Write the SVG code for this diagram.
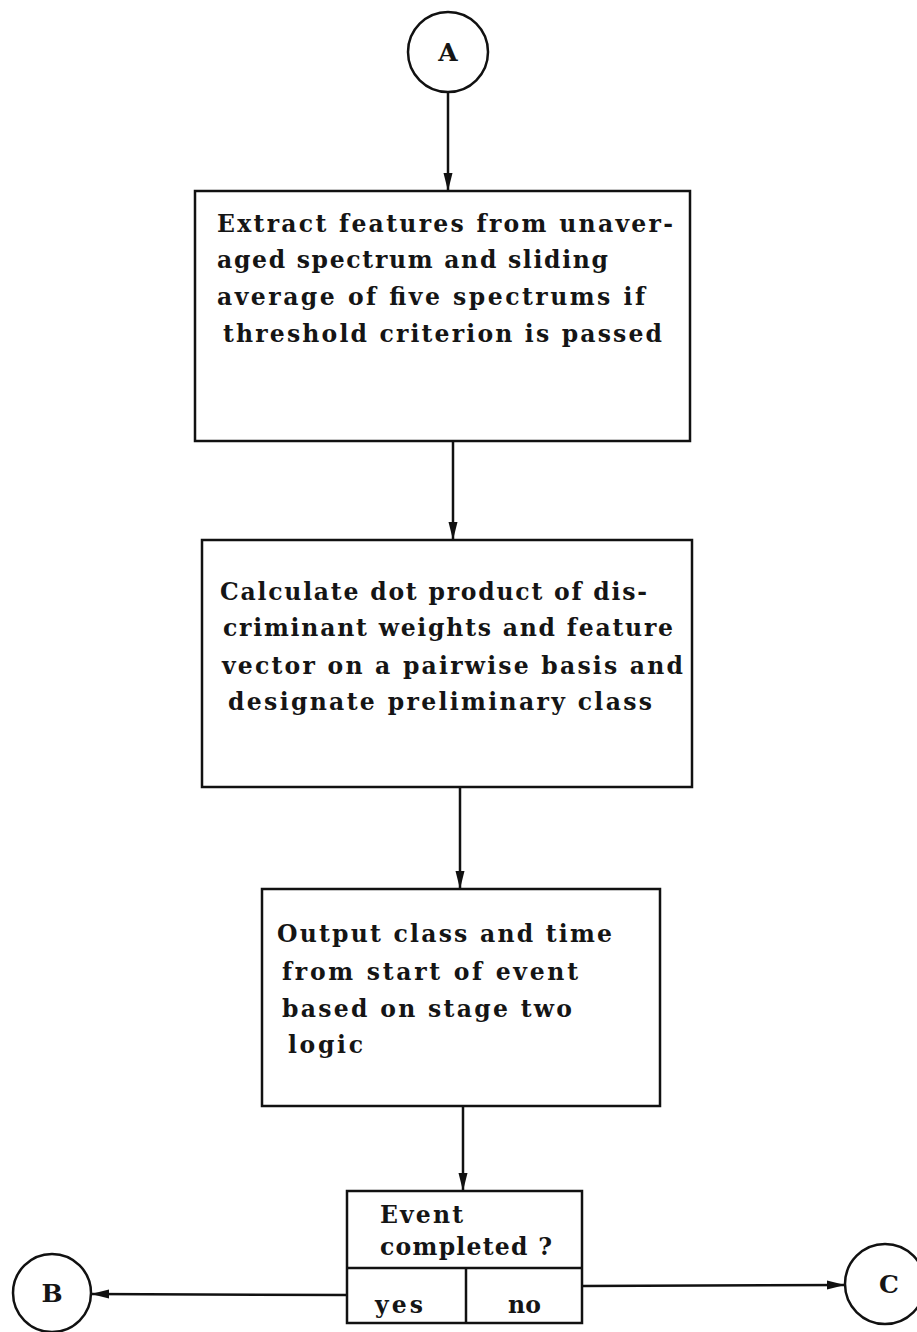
<svg xmlns="http://www.w3.org/2000/svg" width="917" height="1332" viewBox="0 0 917 1332">
<defs>
<marker id="arr" markerUnits="userSpaceOnUse" markerWidth="18" markerHeight="12" refX="18" refY="6" orient="auto">
<path d="M0,1.5 L18,6 L0,10.5 Z" fill="#111"/>
</marker>
<style>
.box,.circ{fill:#fff;stroke:#111;stroke-width:2.5}
.div{fill:none;stroke:#111;stroke-width:2.5}
.c{stroke:#111;stroke-width:2.5;fill:none}
text{font-family:"DejaVu Serif","Liberation Serif",serif;font-weight:bold;font-size:23.5px;fill:#151515}
.lbl{font-size:25px;text-anchor:middle}
</style>
</defs>
<rect x="0" y="0" width="917" height="1332" fill="#fff"/>
<g id="connectors">
<line class="c" x1="448" y1="92" x2="448" y2="191" marker-end="url(#arr)"/>
<line class="c" x1="453" y1="441" x2="453" y2="540" marker-end="url(#arr)"/>
<line class="c" x1="460" y1="787" x2="460" y2="889" marker-end="url(#arr)"/>
<line class="c" x1="463" y1="1106" x2="463" y2="1191" marker-end="url(#arr)"/>
<line class="c" x1="347" y1="1295" x2="91" y2="1294" marker-end="url(#arr)"/>
<line class="c" x1="582" y1="1286" x2="845" y2="1285" marker-end="url(#arr)"/>
</g>
<g id="nodeA">
<circle class="circ" cx="448" cy="52" r="40"/>
<text class="lbl" x="448" y="61">A</text>
</g>
<g id="box1">
<rect class="box" x="195" y="191" width="495" height="250"/>
<text x="217" y="232" textLength="456" lengthAdjust="spacing">Extract features from unaver-</text>
<text x="217" y="268" textLength="391" lengthAdjust="spacing">aged spectrum and sliding</text>
<text x="217" y="305" textLength="428" lengthAdjust="spacing">average of five spectrums if</text>
<text x="223" y="342" textLength="439" lengthAdjust="spacing">threshold criterion is passed</text>
</g>
<g id="box2">
<rect class="box" x="202" y="540" width="490" height="247"/>
<text x="220" y="600" textLength="427" lengthAdjust="spacing">Calculate dot product of dis-</text>
<text x="223" y="636" textLength="450" lengthAdjust="spacing">criminant weights and feature</text>
<text x="222" y="674" textLength="461" lengthAdjust="spacing">vector on a pairwise basis and</text>
<text x="228" y="710" textLength="424" lengthAdjust="spacing">designate preliminary class</text>
</g>
<g id="box3">
<rect class="box" x="262" y="889" width="398" height="217"/>
<text x="277" y="942" textLength="335" lengthAdjust="spacing">Output class and time</text>
<text x="282" y="980" textLength="296" lengthAdjust="spacing">from start of event</text>
<text x="282" y="1017" textLength="290" lengthAdjust="spacing">based on stage two</text>
<text x="288" y="1053" textLength="75" lengthAdjust="spacing">logic</text>
</g>
<g id="decision">
<rect class="box" x="347" y="1191" width="235" height="132"/>
<line class="div" x1="347" y1="1268" x2="582" y2="1268"/>
<line class="div" x1="466" y1="1268" x2="466" y2="1323"/>
<text x="380" y="1223" textLength="83" lengthAdjust="spacing">Event</text>
<text x="380" y="1255" textLength="172" lengthAdjust="spacing">completed ?</text>
<text x="375" y="1313" textLength="48" lengthAdjust="spacing">yes</text>
<text x="508" y="1313" textLength="33" lengthAdjust="spacing">no</text>
</g>
<g id="nodeB">
<circle class="circ" cx="52" cy="1293" r="39"/>
<text class="lbl" x="52" y="1302">B</text>
</g>
<g id="nodeC">
<circle class="circ" cx="885" cy="1284" r="40"/>
<text class="lbl" x="889" y="1293">C</text>
</g>
</svg>
